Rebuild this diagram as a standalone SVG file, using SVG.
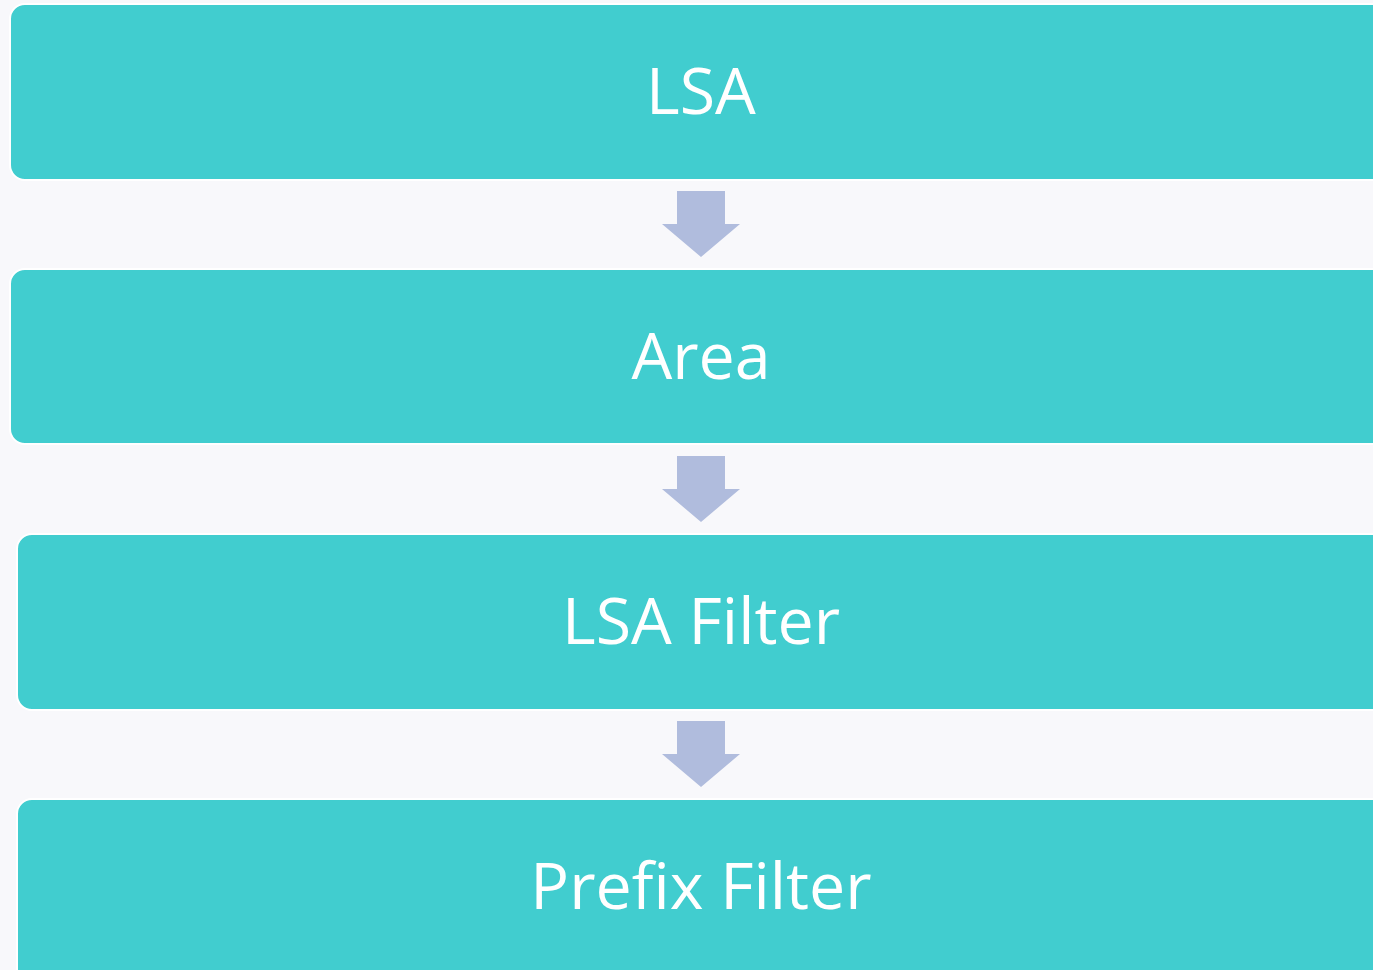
<svg xmlns="http://www.w3.org/2000/svg" width="1373" height="970" viewBox="0 0 1373 970">
<style>
.box{fill:#41CDCF;stroke:#FFFFFF;stroke-width:2}
.lbl{fill:#FFFFFF;font-family:"Open Sans","Liberation Sans",sans-serif;font-size:64.5px;text-anchor:middle}
.arr{fill:#B0BCDD}
</style>
<rect width="1373" height="970" fill="#F8F8FB"/>
<g id="node-lsa"><rect class="box" x="10" y="4" width="1400" height="176" rx="15"/><text class="lbl" x="701" y="114">LSA</text></g>
<g id="node-area"><rect class="box" x="10" y="269" width="1400" height="175" rx="15"/><text class="lbl" x="701" y="379">Area</text></g>
<g id="node-lsafilter"><rect class="box" x="17" y="534" width="1400" height="176" rx="15"/><text class="lbl" x="701" y="644">LSA Filter</text></g>
<g id="node-prefixfilter"><rect class="box" x="17" y="799" width="1400" height="200" rx="15"/><text class="lbl" x="701" y="909">Prefix Filter</text></g>
<g id="connectors">
<polygon class="arr" points="677,191 725,191 725,224 740,224 701,257 662,224 677,224"/>
<polygon class="arr" points="677,456 725,456 725,489 740,489 701,522 662,489 677,489"/>
<polygon class="arr" points="677,721 725,721 725,754 740,754 701,787 662,754 677,754"/>
</g>
</svg>
